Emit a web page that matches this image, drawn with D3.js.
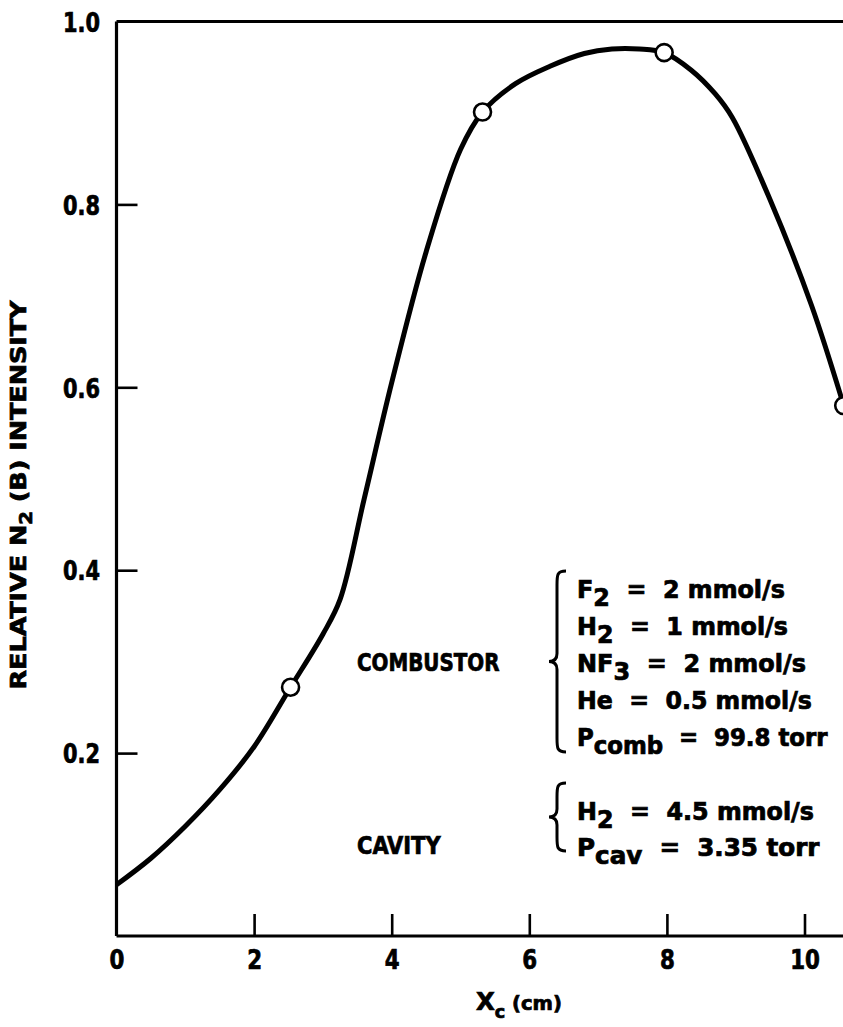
<!DOCTYPE html>
<html>
<head>
<meta charset="utf-8">
<script src="https://cdn.jsdelivr.net/npm/d3@7"></script>
<style>
  html, body { margin: 0; padding: 0; background: #fff; }
  svg { display: block; }
  .lbl { font-family: "Liberation Sans Narrow", "DejaVu Sans Condensed", "Arial Narrow", sans-serif; font-weight: bold; fill: #000; stroke: #000; stroke-width: 0.7px; }
</style>
</head>
<body>
<svg id="chart" width="843" height="1027"></svg>
<script>
// Smooth curve through the measured profile
const curveX = [0, 0.5, 1.0, 1.5, 2.0, 2.53, 3.0, 3.25, 3.6, 4.0, 4.5, 5.0, 5.32, 5.8, 6.3, 6.8, 7.2, 7.6, 7.96, 8.35, 8.7, 8.95, 9.5, 10.1, 10.57];
const curveY = [0.056, 0.085, 0.120, 0.160, 0.207, 0.272, 0.330, 0.368, 0.478, 0.605, 0.748, 0.860, 0.901, 0.932, 0.951, 0.965, 0.970, 0.970, 0.966, 0.947, 0.921, 0.895, 0.805, 0.690, 0.580];

// Measured points (open circles)
const pointX = [2.53, 5.32, 7.96, 10.57];
const pointY = [0.272, 0.901, 0.966, 0.580];

// Axis ticks
const xTicks = [0, 2, 4, 6, 8, 10];
const yTicks = [0.2, 0.4, 0.6, 0.8, 1.0];

const svg = d3.select("#chart");
const x = d3.scaleLinear().domain([0, 10.6]).range([116.5, 116.5 + 10.6 * 68.8]);
const y = d3.scaleLinear().domain([0, 1]).range([936, 21.5]);

// Squeeze a text node horizontally to a given width, keeping point ax fixed
function fitWidth(node, ax, width) {
  const w = node.getBBox().width;
  const s = width / w;
  node.setAttribute("transform", `translate(${ax},0) scale(${s},1) translate(${-ax},0)`);
}
function squeeze(node, ax, s) {
  node.setAttribute("transform", `translate(${ax},0) scale(${s},1) translate(${-ax},0)`);
}

// Frame: top border
svg.append("line")
  .attr("x1", x(0)).attr("x2", 843)
  .attr("y1", y(1)).attr("y2", y(1))
  .attr("stroke", "#000").attr("stroke-width", 3.2);

// Bottom axis with inward ticks
const gx = svg.append("g")
  .attr("transform", `translate(0,${y(0)})`)
  .call(d3.axisBottom(x).tickValues(xTicks).tickSize(-22).tickSizeOuter(0).tickPadding(9).tickFormat(d3.format("d")));
gx.select(".domain").attr("stroke-width", 3.2).attr("d", `M${x(0)},0H843`);
gx.selectAll(".tick line").attr("stroke-width", 2.6);
gx.selectAll(".tick").filter(d => d === 0).select("line").remove();
gx.selectAll(".tick text").attr("class", "lbl").attr("font-size", 27).attr("dy", "0.9em")
  .each(function () { squeeze(this, 0, 0.88); });

// Left axis with inward ticks
const gy = svg.append("g")
  .attr("transform", `translate(${x(0)},0)`)
  .call(d3.axisLeft(y).tickValues(yTicks).tickSize(-21).tickSizeOuter(0).tickPadding(16.5).tickFormat(d3.format(".1f")));
gy.select(".domain").attr("stroke-width", 3.2).attr("d", `M0,${y(1)}V${y(0)}`);
gy.selectAll(".tick line").attr("stroke-width", 2.6);
gy.selectAll(".tick").filter(d => d === 1).select("line").remove();
gy.selectAll(".tick text").attr("class", "lbl").attr("font-size", 27).attr("dy", "0.36em")
  .each(function () { squeeze(this, -16.5, 0.86); });

// Profile curve
const line = d3.line().x((d, i) => x(curveX[i])).y((d, i) => y(curveY[i])).curve(d3.curveCatmullRom.alpha(0.5));
svg.append("path")
  .datum(curveX)
  .attr("d", line)
  .attr("fill", "none")
  .attr("stroke", "#000")
  .attr("stroke-width", 5)
  .attr("stroke-linejoin", "round");

// Data markers
svg.selectAll("circle.pt")
  .data(pointX)
  .join("circle")
  .attr("class", "pt")
  .attr("cx", d => x(d))
  .attr("cy", (d, i) => y(pointY[i]))
  .attr("r", 8.5)
  .attr("fill", "#fff")
  .attr("stroke", "#000")
  .attr("stroke-width", 2.6);

// Axis titles
const yt = svg.append("text")
  .attr("class", "lbl")
  .attr("font-size", 22)
  .attr("text-anchor", "middle");
yt.append("tspan").text("RELATIVE N");
yt.append("tspan").attr("dy", 6).attr("font-size", 17).text("2");
yt.append("tspan").attr("dy", -6).text(" (B) INTENSITY");
{
  const w = yt.node().getBBox().width;
  yt.attr("transform", `translate(26,495) rotate(-90) scale(${390 / w},1)`);
}

const xt = svg.append("text")
  .attr("class", "lbl")
  .attr("font-size", 25)
  .attr("x", 476).attr("y", 1010);
xt.append("tspan").text("X");
xt.append("tspan").attr("dy", 8).attr("font-size", 18).text("c");
xt.append("tspan").attr("dy", -8).attr("font-size", 20).text(" (cm)");
fitWidth(xt.node(), 476, 86);

// Section labels
const comb = svg.append("text").attr("class", "lbl").attr("font-size", 24)
  .attr("x", 357).attr("y", 671).text("COMBUSTOR");
fitWidth(comb.node(), 357, 143);
const cav = svg.append("text").attr("class", "lbl").attr("font-size", 24)
  .attr("x", 357).attr("y", 854).text("CAVITY");
fitWidth(cav.node(), 357, 84);

// Curly brace drawn as a path
function brace(xr, y0, y1) {
  const ym = (y0 + y1) / 2, w = 9;
  return `M${xr + w},${y0} C${xr},${y0} ${xr},${y0 + 4} ${xr},${y0 + 14} L${xr},${ym - 8} C${xr},${ym - 2} ${xr - 3},${ym} ${xr - 8},${ym}` +
         ` C${xr - 3},${ym} ${xr},${ym + 2} ${xr},${ym + 8} L${xr},${y1 - 14} C${xr},${y1 - 4} ${xr},${y1} ${xr + w},${y1}`;
}
svg.append("path").attr("d", brace(557, 571, 752))
  .attr("fill", "none").attr("stroke", "#000").attr("stroke-width", 3);
svg.append("path").attr("d", brace(557, 783, 851))
  .attr("fill", "none").attr("stroke", "#000").attr("stroke-width", 3);

// Conditions text
const combLines = [
  { base: "F", sub: "2", rest: " = 2 mmol/s", w: 208 },
  { base: "H", sub: "2", rest: " = 1 mmol/s", w: 211 },
  { base: "NF", sub: "3", rest: " = 2 mmol/s", w: 229 },
  { base: "He", sub: "", rest: " = 0.5 mmol/s", w: 235 },
  { base: "P", sub: "comb", rest: " = 99.8 torr", w: 251 }
];
const cavLines = [
  { base: "H", sub: "2", rest: " = 4.5 mmol/s", w: 237 },
  { base: "P", sub: "cav", rest: " = 3.35 torr", w: 243 }
];
function writeLines(list, x0, yStart, step) {
  list.forEach((d, i) => {
    const t = svg.append("text").attr("class", "lbl").attr("font-size", 24)
      .attr("x", x0).attr("y", yStart + i * step)
      .style("white-space", "pre");
    const rest = d.rest.replace(" = ", "  =  ");
    t.append("tspan").text(d.base);
    if (d.sub) {
      t.append("tspan").attr("dy", 8).text(d.sub);
      t.append("tspan").attr("dy", -8).text(rest);
    } else {
      t.append("tspan").text(rest);
    }
    fitWidth(t.node(), x0, d.w);
  });
}
writeLines(combLines, 577, 598, 37);
writeLines(cavLines, 577, 820, 36);
</script>
</body>
</html>
